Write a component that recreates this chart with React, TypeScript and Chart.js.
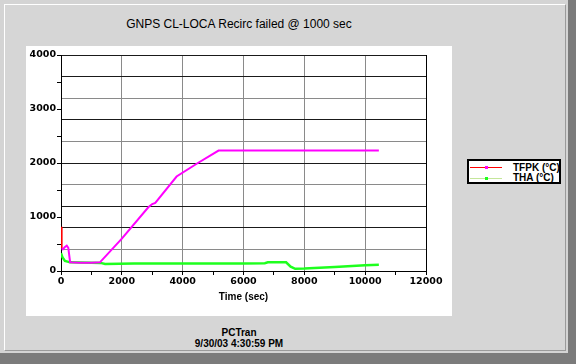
import React, { useEffect, useRef } from "react";
import { Chart, registerables } from "chart.js";
Chart.register(...registerables);

const TITLE = "GNPS CL-LOCA Recirc failed @ 1000 sec";
const X_TITLE = "Time (sec)";
const FOOTER_1 = "PCTran";
const FOOTER_2 = "9/30/03 4:30:59 PM";
const SERIES_NAMES = ["TFPK (°C)", "THA (°C)"];

const X_MIN = 0;
const X_MAX = 12000;
const X_LABEL_STEP = 2000;
const X_TICK_STEP = 1000;
const Y_MIN = 0;
const Y_MAX = 4000;
const Y_LABEL_STEP = 1000;
const Y_TICK_STEP = 500;
const Y_GRID_STEP = 400;
const Y_GRID_LIGHT = [400, 1600, 2400, 3200];

const tfpkTime = [0, 20, 60, 120, 190, 240, 300, 600, 1000, 1280, 2000, 2870, 3000, 3100, 3800, 4500, 5180, 6000, 8000, 10450];
const tfpkValue = [820, 420, 400, 440, 470, 430, 160, 155, 155, 160, 600, 1180, 1240, 1260, 1750, 2000, 2230, 2230, 2230, 2230];

const thaTime = [0, 50, 130, 300, 1000, 1300, 1450, 2400, 4000, 6000, 6700, 6800, 7400, 7550, 7700, 8000, 9000, 10000, 10450];
const thaValue = [330, 250, 185, 160, 155, 150, 130, 140, 140, 140, 145, 160, 160, 80, 40, 45, 75, 105, 115];

const TFPK_COLOR = "#ff00ff";
const TFPK_START_COLOR = "#ff0000";
const THA_COLOR = "#1eff1e";
const GRID_DARK = "#1a1a1a";
const GRID_LIGHT = "#8a8a8a";

const tickFont = { family: "'DejaVu Sans', sans-serif", size: 9.5, weight: "bold" as const };

export default function App() {
  const canvasRef = useRef<HTMLCanvasElement | null>(null);

  useEffect(() => {
    const canvas = canvasRef.current;
    if (!canvas) return;
    const chart = new Chart(canvas, {
      type: "line",
      data: {
        datasets: [
          {
            label: SERIES_NAMES[0],
            data: tfpkTime.map((t, i) => ({ x: t, y: tfpkValue[i] })),
            borderColor: TFPK_COLOR,
            borderWidth: 2,
            pointRadius: 0,
            tension: 0,
            segment: {
              borderColor: (c: any) => (c.p0DataIndex === 0 ? TFPK_START_COLOR : undefined),
            },
            xAxisID: "x",
            yAxisID: "y",
          },
          {
            label: SERIES_NAMES[1],
            data: thaTime.map((t, i) => ({ x: t, y: thaValue[i] })),
            borderColor: THA_COLOR,
            borderWidth: 2.5,
            pointRadius: 0,
            tension: 0,
            xAxisID: "x",
            yAxisID: "y",
          },
        ],
      },
      options: {
        animation: false,
        responsive: false,
        maintainAspectRatio: false,
        layout: { padding: 0 },
        plugins: {
          legend: { display: false },
          tooltip: { enabled: false },
          title: { display: false },
        },
        scales: {
          x: {
            type: "linear",
            position: "bottom",
            min: X_MIN,
            max: X_MAX,
            ticks: {
              stepSize: X_TICK_STEP,
              autoSkip: false,
              maxRotation: 0,
              padding: 1,
              color: "#000",
              font: tickFont,
              callback: (v: any) => (Number(v) % X_LABEL_STEP === 0 ? String(v) : ""),
            },
            grid: {
              color: (ctx: any) => {
                const v = ctx.tick ? ctx.tick.value : 0;
                if (v > X_MIN && v < X_MAX && v % X_LABEL_STEP === 0) return GRID_LIGHT;
                return "rgba(0,0,0,0)";
              },
              tickColor: "#000",
              tickLength: 4,
              lineWidth: 1,
            },
            border: { color: "#000", width: 1 },
            title: {
              display: true,
              text: X_TITLE,
              color: "#000",
              font: { family: "'Liberation Sans', Arial, sans-serif", size: 10, weight: "bold" },
              padding: { top: 0, bottom: 13 },
            },
            afterFit: (s: any) => {
              s.height = 45;
            },
          },
          xTop: {
            type: "linear",
            position: "top",
            min: X_MIN,
            max: X_MAX,
            ticks: { display: false },
            grid: { display: false, drawTicks: false },
            border: { display: false },
            afterFit: (s: any) => {
              s.height = 9;
            },
          },
          y: {
            type: "linear",
            position: "left",
            min: Y_MIN,
            max: Y_MAX,
            ticks: {
              stepSize: Y_TICK_STEP,
              autoSkip: false,
              padding: 1,
              color: "#000",
              font: tickFont,
              callback: (v: any) => (Number(v) % Y_LABEL_STEP === 0 ? String(v) : ""),
            },
            grid: {
              drawOnChartArea: false,
              tickColor: "#000",
              tickLength: 4,
            },
            border: { color: "#000", width: 1 },
            afterFit: (s: any) => {
              s.width = 35;
            },
          },
          yGrid: {
            type: "linear",
            position: "right",
            min: Y_MIN,
            max: Y_MAX,
            ticks: { display: false, stepSize: Y_GRID_STEP },
            grid: {
              drawTicks: false,
              lineWidth: 1,
              color: (ctx: any) => {
                const v = ctx.tick ? ctx.tick.value : 0;
                if (v <= Y_MIN) return "rgba(0,0,0,0)";
                if (Y_GRID_LIGHT.includes(Math.round(v))) return GRID_LIGHT;
                return GRID_DARK;
              },
            },
            border: { display: true, color: "#000", width: 1 },
            afterFit: (s: any) => {
              s.width = 26;
            },
          },
        },
      } as any,
    });
    return () => chart.destroy();
  }, []);

  const boldSmall: React.CSSProperties = {
    fontFamily: "'Liberation Sans', Arial, sans-serif",
    fontWeight: "bold",
    fontSize: 10,
    lineHeight: "11px",
    color: "#000",
  };

  return (
    <div style={{ position: "absolute", left: 0, top: 0, width: 576, height: 364, background: "#7b7b7b", overflow: "hidden" }}>
      <div style={{ position: "absolute", left: 0, top: 0, width: 568, height: 353, background: "#d4d4d4" }} />
      <div
        style={{
          position: "absolute",
          left: 4,
          top: 4,
          width: 560,
          height: 345,
          borderLeft: "1px solid #ffffff",
          borderTop: "1px solid #ffffff",
          borderRight: "1px solid #9a9a9a",
          borderBottom: "1px solid #9a9a9a",
          background: "#d6d6d6",
        }}
      />
      <div
        style={{
          position: "absolute",
          left: 26,
          top: 17,
          width: 426,
          textAlign: "center",
          fontFamily: "'Liberation Sans', Arial, sans-serif",
          fontSize: 12,
          lineHeight: "14px",
          color: "#000",
          whiteSpace: "nowrap",
        }}
      >
        {TITLE}
      </div>
      <div style={{ position: "absolute", left: 26, top: 46, width: 426, height: 270, background: "#ffffff" }}>
        <canvas ref={canvasRef} width={426} height={270} style={{ display: "block", width: 426, height: 270 }} />
      </div>
      <div
        style={{
          position: "absolute",
          left: 467,
          top: 159,
          width: 90,
          height: 21,
          border: "2px solid #000",
          background: "#ffffff",
        }}
      >
        <div style={{ position: "absolute", left: 1, top: 6, width: 32, height: 1, background: TFPK_START_COLOR }} />
        <div style={{ position: "absolute", left: 16, top: 5, width: 3, height: 3, background: TFPK_COLOR }} />
        <div style={{ position: "absolute", left: 1, top: 17, width: 32, height: 1, background: "#c4e69a" }} />
        <div style={{ position: "absolute", left: 16, top: 16, width: 3, height: 3, background: THA_COLOR }} />
        <div style={{ ...boldSmall, position: "absolute", left: 44, top: 1, whiteSpace: "nowrap" }}>{SERIES_NAMES[0]}</div>
        <div style={{ ...boldSmall, position: "absolute", left: 44, top: 11, whiteSpace: "nowrap" }}>{SERIES_NAMES[1]}</div>
      </div>
      <div style={{ ...boldSmall, position: "absolute", left: 26, top: 327, width: 426, textAlign: "center", whiteSpace: "nowrap" }}>
        {FOOTER_1}
        <br />
        {FOOTER_2}
      </div>
    </div>
  );
}
